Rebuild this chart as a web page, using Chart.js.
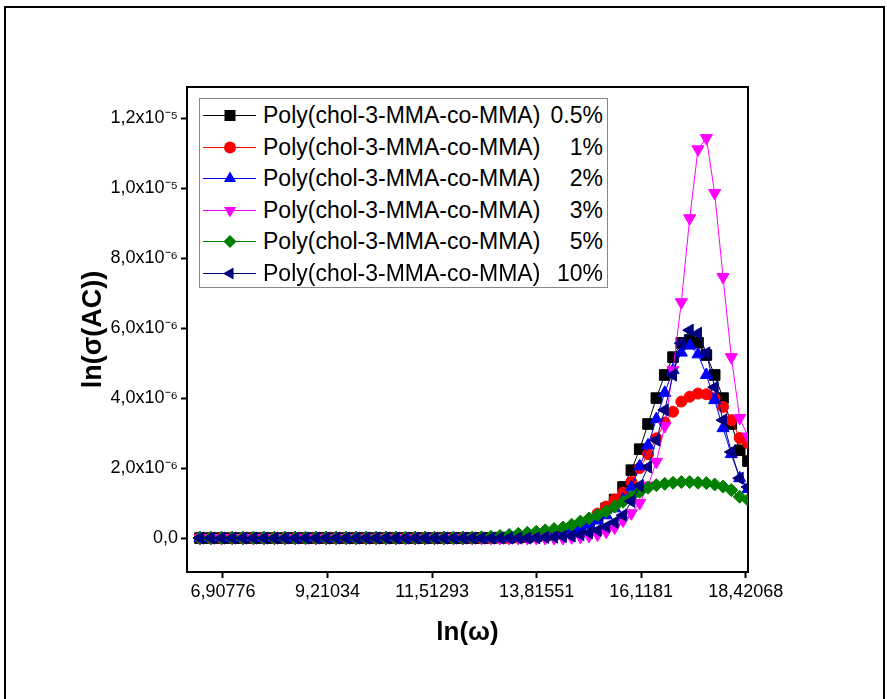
<!DOCTYPE html>
<html>
<head>
<meta charset="utf-8">
<script src="https://cdn.jsdelivr.net/npm/chart.js@4.4.1/dist/chart.umd.min.js"></script>
<style>
body{margin:0;background:#fff;overflow:hidden;font-family:"Liberation Sans",Arial,sans-serif}
.wrap{position:absolute;left:0;top:0;width:887px;height:699px}
.frame{position:absolute;left:4px;top:6px;width:877px;height:720px;border:2px solid #000;pointer-events:none}
.legend{position:absolute;left:199px;top:98px;width:407px;height:188px;border:1px solid #888;background:#fff;color:#000;font-size:23px}
.legend .row{position:absolute;left:0;width:100%;height:32px;line-height:32px;white-space:nowrap}
.legend svg{position:absolute;left:3px;top:0}
.legend .name{position:absolute;left:63px}
.legend .pct{position:absolute;right:4px}
</style>
</head>
<body>
<div class="wrap"><canvas id="chart"></canvas></div>
<div class="frame"></div>
<div class="legend" id="legend"></div>
<script>
// ln(omega) values of the measured points
const xVals = [6.401, 6.639, 6.876, 7.111, 7.345, 7.578, 7.810, 8.041, 8.270, 8.498,
  8.725, 8.951, 9.176, 9.399, 9.621, 9.842, 10.061, 10.280, 10.497, 10.713,
  10.928, 11.141, 11.354, 11.565, 11.775, 11.984, 12.191, 12.397, 12.602, 12.806,
  13.009, 13.210, 13.411, 13.610, 13.807, 14.004, 14.199, 14.393, 14.586, 14.778,
  14.968, 15.158, 15.346, 15.532, 15.718, 15.902, 16.085, 16.269, 16.452, 16.636,
  16.819, 17.002, 17.186, 17.369, 17.553, 17.736, 17.920, 18.103, 18.287, 18.470]

// sigma values, in units of 1e-6
const s05 = [0,0,0,0,0,0,0,0,0,0, 0,0,0,0,0,0,0,0,0,0, 0,0,0,0,0,0,0,0,0,0,
  0.01, 0.01, 0.02, 0.03, 0.05, 0.08, 0.12, 0.17, 0.24, 0.33,
  0.45, 0.6, 0.85, 1.1, 1.46, 1.94, 2.54, 3.26, 4.0, 4.66,
  5.17, 5.58, 5.66, 5.58, 5.23, 4.66, 4.0, 3.26, 2.51, 2.2]
const s1 = [0,0,0,0,0,0,0,0,0,0, 0,0,0,0,0,0,0,0,0,0, 0,0,0,0,0,0,0,0,0,0,
  0.01, 0.01, 0.02, 0.04, 0.06, 0.1, 0.14, 0.2, 0.28, 0.38,
  0.5, 0.7, 0.9, 1.1, 1.3, 1.6, 2.0, 2.4, 2.85, 3.3,
  3.61, 3.9, 4.04, 4.13, 4.11, 4.0, 3.75, 3.37, 2.86, 2.71]
const s2 = [0,0,0,0,0,0,0,0,0,0, 0,0,0,0,0,0,0,0,0,0, 0,0,0,0,0,0,0,0,0,0,
  0.01, 0.01, 0.02, 0.03, 0.05, 0.07, 0.1, 0.15, 0.21, 0.28,
  0.38, 0.5, 0.65, 0.85, 1.1, 1.45, 2.05, 2.65, 3.4, 4.15,
  4.8, 5.3, 5.5, 5.25, 4.66, 3.94, 3.14, 2.4, 1.71, 1.4]
const s3 = [0,0,0,0,0,0,0,0,0,0, 0,0,0,0,0,0,0,0,0,0, 0,0,0,0,0,0,0,0,0,0,
  0,0,0,0,0,0,0,0, 0.02, 0.035,
  0.06, 0.1, 0.18, 0.3, 0.5, 0.71, 1.0, 1.5, 2.18, 3.2,
  4.8, 6.74, 9.14, 11.11, 11.43, 9.86, 7.46, 5.17, 3.43, 2.9]
const s5 = [0,0,0,0,0,0,0,0,0,0, 0,0,0,0,0,0,0,0,0,0, 0,0,0,0,0,0,0, 0.01, 0.02, 0.04,
  0.06, 0.09, 0.12, 0.15, 0.18, 0.22, 0.26, 0.3, 0.38, 0.47,
  0.56, 0.66, 0.76, 0.9, 1.04, 1.18, 1.32, 1.44, 1.51, 1.55,
  1.58, 1.6, 1.6, 1.58, 1.57, 1.53, 1.47, 1.37, 1.18, 1.09]
const s10 = [0,0,0,0,0,0,0,0,0,0, 0,0,0,0,0,0,0,0,0,0, 0,0,0,0,0,0,0,0,0,0,
  0,0,0,0, 0.01, 0.02, 0.03, 0.045, 0.06, 0.1,
  0.15, 0.22, 0.32, 0.45, 0.65, 1.05, 1.5, 2.03, 2.8, 3.66,
  4.66, 5.57, 5.94, 5.85, 5.29, 4.31, 3.37, 2.46, 1.71, 1.46]

const seriesData = [s05, s1, s2, s3, s5, s10]
const seriesName = 'Poly(chol-3-MMA-co-MMA)'
const seriesPct = ['0.5%', '1%', '2%', '3%', '5%', '10%']
const colors = ['#000000', '#ff0000', '#0000ff', '#ff00ff', '#008000', '#000080']
const pointStyles = ['rect', 'circle', 'triangle', 'triangle', 'rectRot', 'triangle']
const pointRotations = [0, 0, 0, 180, 0, -90]
const pointSizes = [7.5, 5.5, 7, 7, 6.5, 7]

const xTickValues = [6.90776, 9.21034, 11.51293, 13.81551, 16.1181, 18.42068]
const xTickLabels = ['6,90776', '9,21034', '11,51293', '13,81551', '16,1181', '18,42068']
const yTickValues = [0, 2, 4, 6, 8, 10, 12]
const yTickLabels = ['0,0', '2,0x10⁻⁶', '4,0x10⁻⁶', '6,0x10⁻⁶', '8,0x10⁻⁶', '1,0x10⁻⁵', '1,2x10⁻⁵']

Chart.defaults.font.family = "'Liberation Sans', Arial, sans-serif"
Chart.defaults.color = '#000'

const datasets = seriesData.map((d, i) => ({
  label: seriesName + ' ' + seriesPct[i],
  data: d.map((v, j) => ({x: xVals[j], y: v})),
  borderColor: colors[i],
  backgroundColor: colors[i],
  borderWidth: 1,
  pointStyle: pointStyles[i],
  pointRotation: pointRotations[i],
  pointRadius: pointSizes[i],
  pointBorderWidth: 1,
  pointBorderColor: colors[i],
  pointBackgroundColor: colors[i],
  order: seriesData.length - i,
  clip: 0,
  tension: 0
}))

ctx = document.getElementById('chart')
myChart = new Chart(ctx, {
  type: 'line',
  data: { datasets: datasets },
  options: {
    responsive: true,
    maintainAspectRatio: false,
    animation: false,
    layout: { padding: { left: 77, top: 87, right: 94, bottom: 0 } },
    plugins: { legend: { display: false }, tooltip: { enabled: false } },
    scales: {
      x: {
        type: 'linear', position: 'bottom', min: 6.115, max: 18.47,
        afterBuildTicks: s => { s.ticks = xTickValues.map(v => ({ value: v })) },
        afterFit: s => { s.height = 127 },
        ticks: { callback: (v, i) => xTickLabels[i], font: { size: 18 }, padding: 3, maxRotation: 0, autoSkip: false },
        grid: { drawOnChartArea: false, tickLength: 6, tickWidth: 2, tickColor: '#000' },
        border: { display: true, color: '#000', width: 2 },
        title: { display: true, text: 'ln(ω)', font: { size: 26, weight: 'bold' }, padding: { top: 0, bottom: 51 } }
      },
      y: {
        type: 'linear', position: 'left', min: -0.97, max: 12.89,
        afterBuildTicks: s => { s.ticks = yTickValues.map(v => ({ value: v })) },
        afterFit: s => { s.width = 110 },
        ticks: { callback: (v, i) => yTickLabels[i], font: { size: 18 }, padding: 3 },
        grid: { drawOnChartArea: false, tickLength: 6, tickWidth: 2, tickColor: '#000' },
        border: { display: true, color: '#000', width: 2 },
        title: { display: true, text: 'ln(σ(AC))', font: { size: 27, weight: 'bold' }, padding: { top: 0, bottom: 0 } }
      },
      x2: {
        type: 'linear', axis: 'x', position: 'top', min: 6.115, max: 18.47,
        afterFit: s => { s.height = 0 },
        ticks: { display: false },
        grid: { display: false, drawTicks: false },
        border: { display: true, color: '#000', width: 2 }
      },
      y2: {
        type: 'linear', axis: 'y', position: 'right', min: -0.97, max: 12.89,
        afterFit: s => { s.width = 45 },
        ticks: { display: false },
        grid: { display: false, drawTicks: false },
        border: { display: true, color: '#000', width: 2 }
      }
    }
  }
})

// legend box drawn as html so the percentages line up on the right
function marker(i, cx, cy) {
  const c = colors[i]
  if (i == 0) return `<rect x="${cx-5.5}" y="${cy-5.5}" width="11" height="11" fill="${c}"/>`
  if (i == 1) return `<circle cx="${cx}" cy="${cy}" r="6" fill="${c}"/>`
  if (i == 2) return `<polygon points="${cx},${cy-7} ${cx+6.1},${cy+3.5} ${cx-6.1},${cy+3.5}" fill="${c}"/>`
  if (i == 3) return `<polygon points="${cx},${cy+7} ${cx+6.1},${cy-3.5} ${cx-6.1},${cy-3.5}" fill="${c}"/>`
  if (i == 4) return `<polygon points="${cx},${cy-6.5} ${cx+6.5},${cy} ${cx},${cy+6.5} ${cx-6.5},${cy}" fill="${c}"/>`
  return `<polygon points="${cx-7},${cy} ${cx+3.5},${cy-6.1} ${cx+3.5},${cy+6.1}" fill="${c}"/>`
}

const legend = document.getElementById('legend')
seriesPct.forEach((p, i) => {
  const row = document.createElement('div')
  row.className = 'row'
  row.style.top = (i * 31.5) + 'px'
  row.innerHTML = `<svg width="54" height="32"><line x1="0" y1="16.5" x2="53" y2="16.5" stroke="${colors[i]}" stroke-width="1"/>${marker(i, 27, 16.5)}</svg>` +
    `<span class="name">${seriesName}</span><span class="pct">${p}</span>`
  legend.appendChild(row)
})
</script>
</body>
</html>
